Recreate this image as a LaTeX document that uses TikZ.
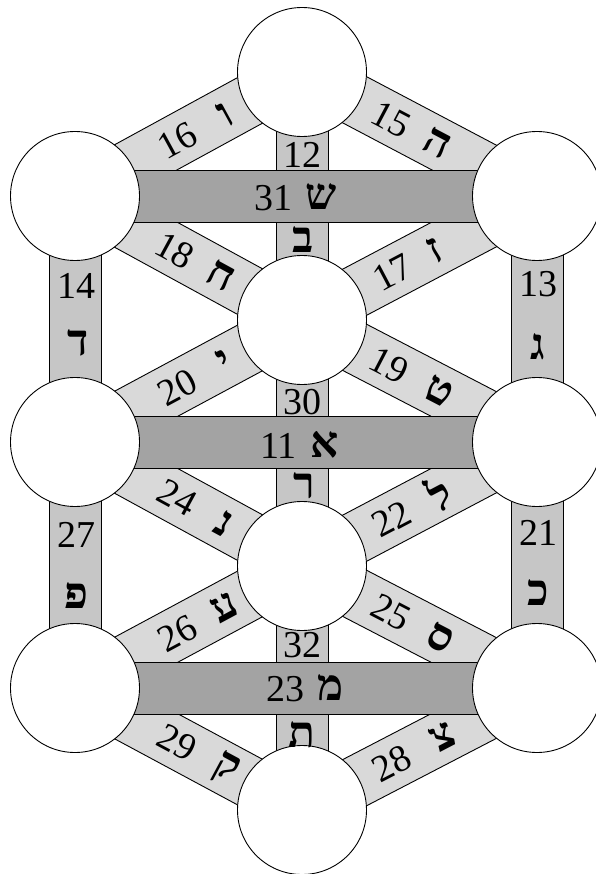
\documentclass[tikz,border=0pt]{standalone}
\usepackage{fontspec}
\setmainfont{Liberation Serif}
\newfontfamily\heb[Script=Hebrew]{Liberation Serif}
\usetikzlibrary{calc}
\definecolor{hbar}{HTML}{A3A3A3}
\definecolor{vbar}{HTML}{C6C6C6}
\definecolor{dbar}{HTML}{D9D9D9}
\pgfdeclarelayer{lowbars}
\pgfdeclarelayer{highbars}
\pgfsetlayers{lowbars,highbars,main}
\begin{document}
\begin{tikzpicture}[x=1pt,y=-1pt,
  sef/.style={circle, draw=black, line width=0.9pt, fill=white, minimum size=129pt, inner sep=0pt},
  pathbar/.style={draw=black, line width=0.9pt,
    to path={($(\tikztostart)!26pt!90:(\tikztotarget)$) -- ($(\tikztotarget)!26pt!-90:(\tikztostart)$) -- ($(\tikztotarget)!26pt!90:(\tikztostart)$) -- ($(\tikztostart)!26pt!-90:(\tikztotarget)$) -- cycle}},
  hpath/.style={pathbar, fill=hbar},
  vpath/.style={pathbar, fill=vbar},
  dpath/.style={pathbar, fill=dbar},
  num/.style={font=\fontsize{38}{40}\selectfont, inner sep=0pt},
  let/.style={font=\heb\bfseries\fontsize{44}{46}\selectfont, inner sep=0pt}]
\useasboundingbox (0,0) rectangle (595,874);
% sephirot
\node[sef] (k)  at (302,72)  {};
\node[sef] (l2) at (75,196)  {};
\node[sef] (r2) at (537,196) {};
\node[sef] (m1) at (302,320) {};
\node[sef] (l3) at (75,442)  {};
\node[sef] (r3) at (537,442) {};
\node[sef] (m2) at (302,566) {};
\node[sef] (l4) at (75,688)  {};
\node[sef] (r4) at (537,688) {};
\node[sef] (b)  at (302,810) {};
% lower bars
\begin{pgfonlayer}{lowbars}
\draw[vpath] (k.center) to (m1.center);
\draw[vpath] (m1.center) to (m2.center);
\draw[vpath] (m2.center) to (b.center);
\draw[vpath] (l2.center) to (l3.center);
\draw[vpath] (l3.center) to (l4.center);
\draw[vpath] (r2.center) to (r3.center);
\draw[vpath] (r3.center) to (r4.center);
\draw[dpath] (l2.center) to (k.center);
\draw[dpath] (k.center) to (r2.center);
\draw[dpath] (l2.center) to (m1.center);
\draw[dpath] (m1.center) to (r2.center);
\draw[dpath] (l3.center) to (m1.center);
\draw[dpath] (m1.center) to (r3.center);
\draw[dpath] (l3.center) to (m2.center);
\draw[dpath] (m2.center) to (r3.center);
\draw[dpath] (l4.center) to (m2.center);
\draw[dpath] (m2.center) to (r4.center);
\draw[dpath] (l4.center) to (b.center);
\draw[dpath] (b.center) to (r4.center);
\end{pgfonlayer}
\begin{pgfonlayer}{highbars}
\draw[hpath] (l2.center) to (r2.center);
\draw[hpath] (l3.center) to (r3.center);
\draw[hpath] (l4.center) to (r4.center);
\end{pgfonlayer}
% horizontal labels
\node[num, anchor=east] (t31) at (293,198) {31};
\node[let, anchor=west] (h31) at (305,197) {ש};
\node[num, anchor=east] (t11) at (297,446) {11};
\node[let, anchor=west] (h11) at (310,445) {א};
\node[num, anchor=east] (t23) at (305,689) {23};
\node[let, anchor=west] (h23) at (317,688) {מ};
% vertical labels
\node[num] (t12) at (302,155) {12};
\node[let] (h12) at (303,240) {ב};
\node[num] (t30) at (302,402) {30};
\node[let] (h30) at (304,486) {ר};
\node[num] (t32) at (302,645) {32};
\node[let] (h32) at (302,735) {ת};
\node[num] (t14) at (76,286) {14};
\node[let] (h14) at (78,343) {ד};
\node[num] (t27) at (76,535) {27};
\node[let] (h27) at (76,596) {פ};
\node[num] (t13) at (538,284) {13};
\node[let] (h13) at (538,347) {ג};
\node[num] (t21) at (538,533) {21};
\node[let] (h21) at (538,593) {כ};
% diagonal labels
\path (l2.center) -- (k.center)  node[num, sloped, pos=0.45] (t16) {16} node[let, sloped, pos=0.66] (h16) {ו};
\path (k.center) -- (r2.center)  node[num, sloped, pos=0.38] (t15) {15} node[let, sloped, pos=0.575] (h15) {ה};
\path (l2.center) -- (m1.center) node[num, sloped, pos=0.44] (t18) {18} node[let, sloped, pos=0.645] (h18) {ח};
\path (m1.center) -- (r2.center) node[num, sloped, pos=0.385] (t17) {17} node[let, sloped, pos=0.565] (h17) {ז};
\path (l3.center) -- (m1.center) node[num, sloped, pos=0.45] (t20) {20} node[let, sloped, pos=0.66] (h20) {י};
\path (m1.center) -- (r3.center) node[num, sloped, pos=0.37] (t19) {19} node[let, sloped, pos=0.585] (h19) {ט};
\path (l3.center) -- (m2.center) node[num, sloped, pos=0.45] (t24) {24} node[let, sloped, pos=0.655] (h24) {נ};
\path (m2.center) -- (r3.center) node[num, sloped, pos=0.38] (t22) {22} node[let, sloped, pos=0.585] (h22) {ל};
\path (l4.center) -- (m2.center) node[num, sloped, pos=0.45] (t26) {26} node[let, sloped, pos=0.66] (h26) {ע};
\path (m2.center) -- (r4.center) node[num, sloped, pos=0.38] (t25) {25} node[let, sloped, pos=0.59] (h25) {ס};
\path (l4.center) -- (b.center)  node[num, sloped, pos=0.45] (t29) {29} node[let, sloped, pos=0.665] (h29) {ק};
\path (b.center) -- (r4.center)  node[num, sloped, pos=0.38] (t28) {28} node[let, sloped, pos=0.60] (h28) {צ};
\end{tikzpicture}
\end{document}
